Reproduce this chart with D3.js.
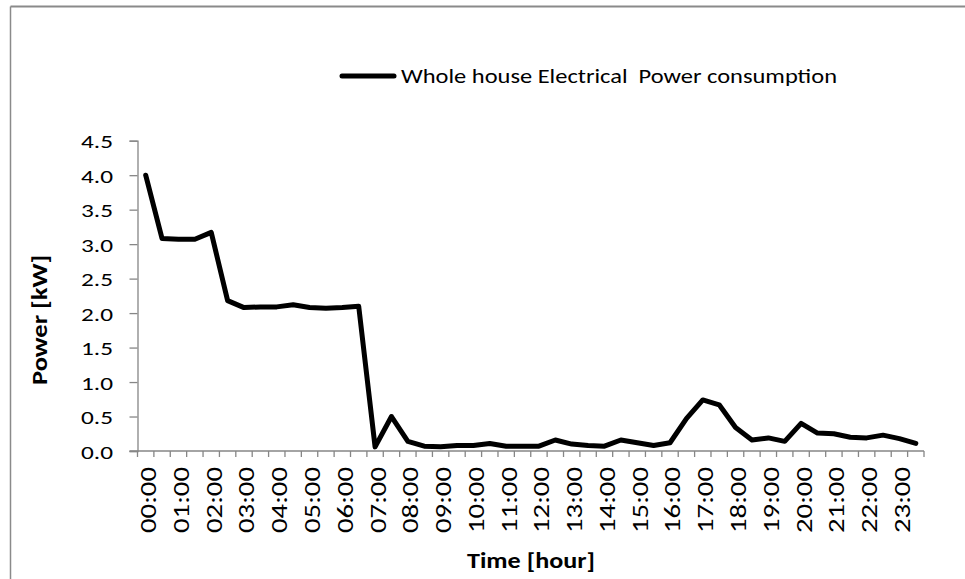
<!DOCTYPE html>
<html>
<head>
<meta charset="utf-8">
<script src="https://cdn.jsdelivr.net/npm/d3@7"></script>
<style>
  html, body { margin: 0; padding: 0; background: #fff; }
  svg { display: block; }
  text { font-family: Carlito, Lato, "Open Sans", sans-serif; fill: #000; }
</style>
</head>
<body>
<svg id="chart" width="965" height="579"></svg>
<script>
// ---- data ----
const times = [
  "00:00","00:30","01:00","01:30","02:00","02:30","03:00","03:30",
  "04:00","04:30","05:00","05:30","06:00","06:30","07:00","07:30",
  "08:00","08:30","09:00","09:30","10:00","10:30","11:00","11:30",
  "12:00","12:30","13:00","13:30","14:00","14:30","15:00","15:30",
  "16:00","16:30","17:00","17:30","18:00","18:30","19:00","19:30",
  "20:00","20:30","21:00","21:30","22:00","22:30","23:00","23:30"
];
const power = [
  4.00, 3.08, 3.07, 3.07, 3.17, 2.18, 2.08, 2.09,
  2.09, 2.12, 2.08, 2.07, 2.08, 2.10, 0.06, 0.50,
  0.14, 0.07, 0.06, 0.08, 0.08, 0.11, 0.07, 0.07,
  0.07, 0.16, 0.10, 0.08, 0.07, 0.16, 0.12, 0.08,
  0.12, 0.47, 0.74, 0.67, 0.34, 0.16, 0.19, 0.14,
  0.40, 0.26, 0.25, 0.20, 0.19, 0.23, 0.18, 0.11
];
const hourLabels = [
  "00:00","01:00","02:00","03:00","04:00","05:00","06:00","07:00",
  "08:00","09:00","10:00","11:00","12:00","13:00","14:00","15:00",
  "16:00","17:00","18:00","19:00","20:00","21:00","22:00","23:00"
];
const yTicks = [0, 0.5, 1.0, 1.5, 2.0, 2.5, 3.0, 3.5, 4.0, 4.5];
const seriesName = "Whole house Electrical  Power consumption";

// ---- layout ----
const svg = d3.select("#chart");
const plotLeft = 137.5, plotRight = 924, plotTop = 140.7, plotBottom = 451;
const axisColor = "#868686";

const x = d3.scaleBand().domain(times).range([plotLeft, plotRight]).paddingInner(0).paddingOuter(0);
const y = d3.scaleLinear().domain([0, 4.5]).range([plotBottom, plotTop]);

// outer frame (top and left visible)
svg.append("line").attr("x1", 10.5).attr("x2", 965).attr("y1", 6.5).attr("y2", 6.5)
  .attr("stroke", "#8a8a8a").attr("stroke-width", 2);
svg.append("line").attr("x1", 10.5).attr("x2", 10.5).attr("y1", 6.5).attr("y2", 579)
  .attr("stroke", "#8a8a8a").attr("stroke-width", 1.5);

// y axis
const yAxis = d3.axisLeft(y).tickValues(yTicks).tickSize(8).tickPadding(0)
  .tickFormat(d3.format(".1f"));
const gy = svg.append("g").attr("transform", `translate(${plotLeft},0)`).call(yAxis);
gy.select(".domain").attr("stroke", axisColor).attr("stroke-width", 1.3);
gy.selectAll(".tick line").attr("stroke", axisColor).attr("stroke-width", 1.3);
gy.selectAll(".tick text")
  .attr("x", -24.5).attr("dy", "0.62em").attr("y", -4)
  .attr("text-anchor", "end")
  .style("font-size", "18px").style("font-weight", "300")
  .attr("textLength", 32).attr("lengthAdjust", "spacingAndGlyphs");

// x axis line + boundary ticks
const boundaries = times.map(t => x(t)).concat([plotRight]);
svg.append("line").attr("x1", plotLeft - 8).attr("x2", plotRight).attr("y1", plotBottom).attr("y2", plotBottom)
  .attr("stroke", axisColor).attr("stroke-width", 1.3);
svg.append("g").selectAll("line").data(boundaries).join("line")
  .attr("x1", d => d).attr("x2", d => d).attr("y1", plotBottom).attr("y2", plotBottom + 6)
  .attr("stroke", axisColor).attr("stroke-width", 1.3);

// x tick labels (hourly)
svg.append("g").selectAll("text").data(hourLabels).join("text")
  .attr("transform", d => `translate(${x(d) + x.bandwidth() / 2 + 2.5},467) rotate(-90)`)
  .attr("text-anchor", "end")
  .attr("dy", "0.36em")
  .style("font-size", "22px").style("font-weight", "300")
  .attr("textLength", 66).attr("lengthAdjust", "spacingAndGlyphs")
  .text(d => d);

// line
const line = d3.line()
  .x((d, i) => x(times[i]) + x.bandwidth() / 2)
  .y(d => y(d));
svg.append("path").datum(power)
  .attr("d", line)
  .attr("fill", "none").attr("stroke", "#000").attr("stroke-width", 5)
  .attr("stroke-linejoin", "round").attr("stroke-linecap", "round");

// legend
svg.append("line").attr("x1", 342).attr("x2", 394).attr("y1", 76).attr("y2", 76)
  .attr("stroke", "#000").attr("stroke-width", 5).attr("stroke-linecap", "round");
svg.append("text").attr("x", 401).attr("y", 82.5)
  .style("font-size", "20.5px").style("white-space", "pre").style("font-weight", "300")
  .attr("textLength", 436).attr("lengthAdjust", "spacingAndGlyphs")
  .text(seriesName);

// axis titles
svg.append("text")
  .attr("transform", "translate(47,320) rotate(-90)")
  .attr("text-anchor", "middle")
  .style("font-size", "23px").style("font-weight", "bold")
  .attr("textLength", 130).attr("lengthAdjust", "spacingAndGlyphs")
  .text("Power [kW]");
svg.append("text")
  .attr("x", 531).attr("y", 568)
  .attr("text-anchor", "middle")
  .style("font-size", "22px").style("font-weight", "bold")
  .attr("textLength", 128).attr("lengthAdjust", "spacingAndGlyphs")
  .text("Time [hour]");
</script>
</body>
</html>
